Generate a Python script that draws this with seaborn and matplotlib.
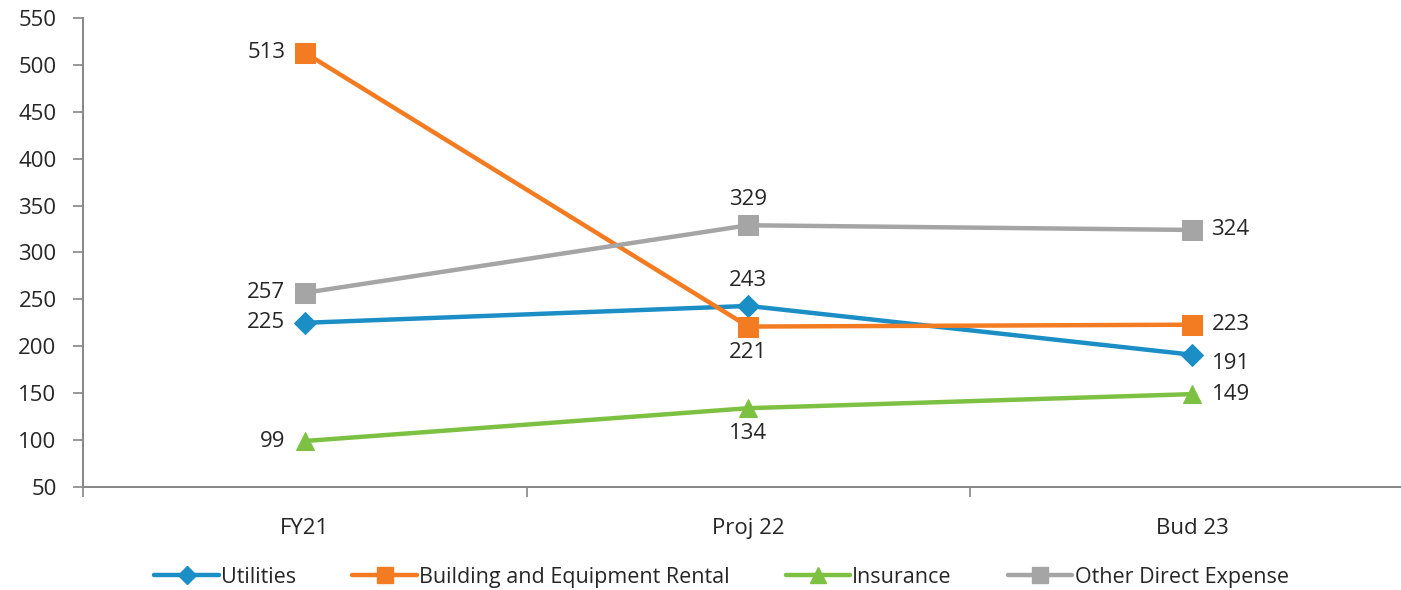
import matplotlib
matplotlib.use("Agg")
import matplotlib.pyplot as plt
import seaborn as sns
import pandas as pd
from matplotlib.lines import Line2D

categories = ["FY21", "Proj 22", "Bud 23"]
utilities = [225, 243, 191]
rental = [513, 221, 223]
insurance = [99, 134, 149]
other = [257, 329, 324]

series_names = ["Utilities", "Building and Equipment Rental", "Insurance", "Other Direct Expense"]
series_values = [utilities, rental, insurance, other]
colors = ["#1B8EC6", "#F37B21", "#7CC142", "#A5A5A5"]
markers = ["D", "s", "^", "s"]
msizes = [11, 14, 13, 14]
placements = [
    [("l", 0), ("t", 0), ("r", -1)],
    [("l", 0), ("b", 0), ("r", 0)],
    [("l", 0), ("b", 0), ("r", 0)],
    [("l", 0), ("t", 0), ("r", 0)],
]

sns.set_style("white")
plt.rcParams["font.family"] = ["Open Sans", "DejaVu Sans"]

rows = []
for name, vals in zip(series_names, series_values):
    for i, v in enumerate(vals):
        rows.append({"series": name, "x": i, "value": v})
df = pd.DataFrame(rows)

fig = plt.figure(figsize=(14.01, 5.90), dpi=100)
ax = fig.add_axes([0.0592, 0.1746, 0.95, 0.795])

for name, c, m, ms in zip(series_names, colors, markers, msizes):
    sub = df[df["series"] == name]
    sns.lineplot(data=sub, x="x", y="value", ax=ax, color=c, marker=m,
                 markersize=ms, markeredgecolor=c, linewidth=3.2, legend=False)

for vals, pl, c in zip(series_values, placements, colors):
    for i, (v, (pos, extra)) in enumerate(zip(vals, pl)):
        if pos == "l":
            xy, ha, va = (-14, 0), "right", "center"
        elif pos == "r":
            xy, ha, va = (14, -6 if extra else 0), "left", "center"
        elif pos == "t":
            xy, ha, va = (0, 11), "center", "bottom"
        else:
            xy, ha, va = (0, -11), "center", "top"
        ax.annotate(str(v), (i, v), xytext=xy, textcoords="offset points",
                    ha=ha, va=va, fontsize=16, color="#262626")

ax.set_xlim(-0.5, 2.5)
ax.set_ylim(50, 550)
ax.set_yticks(range(50, 551, 50))
ax.set_xticks([0, 1, 2])
ax.set_xticklabels(categories)
ax.set_xticks([-0.5, 0.5, 1.5, 2.5], minor=True)
ax.tick_params(axis="both", which="both", bottom=True, left=True)
ax.tick_params(axis="x", which="major", length=0, pad=22, labelsize=16, labelcolor="#262626")
ax.tick_params(axis="x", which="minor", length=7, width=1.2, color="#868686", direction="out")
ax.tick_params(axis="y", length=7, width=1.2, color="#868686", direction="out", labelsize=16,
               labelcolor="#262626", pad=12)
ax.set_xlabel("")
ax.set_ylabel("")
for s in ["top", "right"]:
    ax.spines[s].set_visible(False)
for s in ["left", "bottom"]:
    ax.spines[s].set_color("#868686")
    ax.spines[s].set_linewidth(1.4)

handles = [Line2D([0], [0], color=c, marker=m, markersize=ms * 0.85, linewidth=3.2, markeredgecolor=c)
           for c, m, ms in zip(colors, markers, msizes)]
fig.legend(handles, series_names, loc="center", bbox_to_anchor=(0.515, 0.022), ncol=4,
           frameon=False, fontsize=15.5, handlelength=3.0, handletextpad=0.1, columnspacing=2.6)

fig.savefig("out.png", dpi=100)
